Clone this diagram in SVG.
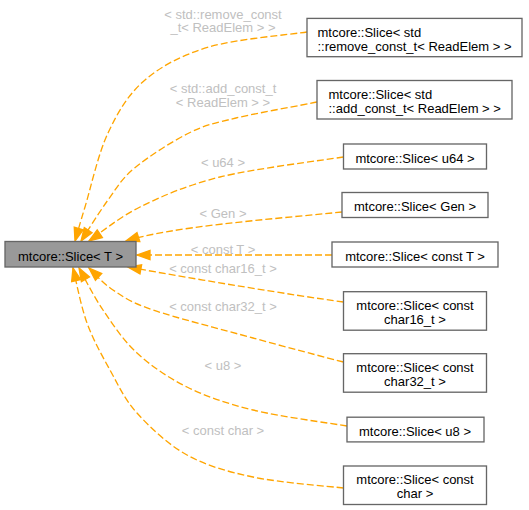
<svg xmlns="http://www.w3.org/2000/svg" width="529" height="510" viewBox="0 0 529 510">
<defs>
<style>
.node rect{fill:#ffffff;stroke:#666666;stroke-width:1.33}
.node.main rect{fill:#999999}
.node text{font-family:"Liberation Sans",Arial,Helvetica,sans-serif;font-size:13px;fill:#000000}
.edge path{fill:none;stroke:#ffa500;stroke-width:1.33;stroke-dasharray:7,3}
.lbl{font-family:"Liberation Sans",Arial,Helvetica,sans-serif;font-size:13px;fill:#c0c0c0;text-anchor:middle}
</style>
<marker id="arr" markerUnits="userSpaceOnUse" markerWidth="14" markerHeight="10" refX="13" refY="4.65" orient="auto" overflow="visible">
<path d="M0,0 L13,4.65 L0,9.3 Z" fill="#ffa500" stroke="#ffa500" stroke-width="1.33" stroke-dasharray="none"/>
</marker>
</defs>
<rect width="529" height="510" fill="#ffffff"/>

<g id="edges" class="edge">
<path marker-end="url(#arr)" d="M307,32 C290.7,34.5 236,39 209,47 C182,55 161.8,65.7 145,80 C128.2,94.3 118,111.8 108,133 C98,154.2 90.5,189 85,207 C79.5,225 76.7,235.3 75,241"/>
<path marker-end="url(#arr)" d="M317,102 C304.8,104.7 257.6,112.8 236,118 C214.4,123.2 205.9,124.7 189,133 C172.1,141.3 148.1,156.8 134.6,168 C121.1,179.2 116.9,187.8 108,200 C99.1,212.2 85.5,234.2 81,241"/>
<path marker-end="url(#arr)" d="M343.5,157 C322.1,160.3 253.75,168.7 220,177 C186.25,185.3 161.8,196.3 140,207 C118.2,217.7 97.5,235.3 89,241"/>
<path marker-end="url(#arr)" d="M342,212 C262,220 170,227 126,241"/>
<path marker-end="url(#arr)" d="M332,255 L137,255"/>
<path marker-end="url(#arr)" d="M343.5,302 C292,295 200,280 128,267"/>
<path marker-end="url(#arr)" d="M343.5,362 C327.6,358 284.6,346.7 253,338 C221.4,329.3 176.3,318 153,310 C129.7,302 123.7,297 113,290 C102.3,283 93,271.7 89,268"/>
<path marker-end="url(#arr)" d="M347,426 C330.5,423.3 279.5,416.5 253,410 C226.5,403.5 206.3,396.5 187,387 C167.7,377.5 151,365.8 137,353 C123,340.2 112.7,324.2 103,310 C93.3,295.8 83,275 79,268"/>
<path marker-end="url(#arr)" d="M343.5,488 C327.6,486.2 278.9,482.5 253,477 C227.1,471.5 206.3,465.7 187,455 C167.7,444.3 149.8,427.2 137,413 C124.2,398.8 118.3,385 110,370 C101.7,355 93.2,340 87,323 C80.8,306 75.3,277.2 73,268"/>
<text class="lbl" x="223" y="18.5">&lt; std::remove_const</text>
<text class="lbl" x="223" y="32">_t&lt; ReadElem &gt; &gt;</text>
<text class="lbl" x="223" y="93">&lt; std::add_const_t</text>
<text class="lbl" x="223" y="106.5">&lt; ReadElem &gt; &gt;</text>
<text class="lbl" x="223" y="166.5">&lt; u64 &gt;</text>
<text class="lbl" x="223" y="217.5">&lt; Gen &gt;</text>
<text class="lbl" x="223" y="254">&lt; const T &gt;</text>
<text class="lbl" x="223" y="272.5">&lt; const char16_t &gt;</text>
<text class="lbl" x="223" y="311">&lt; const char32_t &gt;</text>
<text class="lbl" x="223" y="369.5">&lt; u8 &gt;</text>
<text class="lbl" x="223" y="434.5">&lt; const char &gt;</text>
</g>

<g id="node_main" class="node main">
<rect x="5" y="241.5" width="131" height="25.5"/>
<text x="70.5" y="260.5" text-anchor="middle">mtcore::Slice&lt; T &gt;</text>
</g>
<g id="node_remove_const" class="node">
<rect x="307" y="18.4" width="215" height="38.3"/>
<text x="317.5" y="36.5">mtcore::Slice&lt; std</text>
<text x="317.5" y="50.5">::remove_const_t&lt; ReadElem &gt; &gt;</text>
</g>
<g id="node_add_const" class="node">
<rect x="317" y="80.5" width="195" height="38.5"/>
<text x="328.5" y="98.8">mtcore::Slice&lt; std</text>
<text x="328.5" y="112.8">::add_const_t&lt; ReadElem &gt; &gt;</text>
</g>
<g id="node_u64" class="node">
<rect x="343.5" y="144" width="143" height="25"/>
<text x="415" y="162.5" text-anchor="middle">mtcore::Slice&lt; u64 &gt;</text>
</g>
<g id="node_gen" class="node">
<rect x="342" y="192.5" width="146" height="25"/>
<text x="415" y="211" text-anchor="middle">mtcore::Slice&lt; Gen &gt;</text>
</g>
<g id="node_const_t" class="node">
<rect x="332" y="242" width="166" height="25"/>
<text x="415" y="260.5" text-anchor="middle">mtcore::Slice&lt; const T &gt;</text>
</g>
<g id="node_char16" class="node">
<rect x="343.5" y="291.7" width="143" height="38.5"/>
<text x="415" y="310" text-anchor="middle">mtcore::Slice&lt; const</text>
<text x="415" y="324" text-anchor="middle">char16_t &gt;</text>
</g>
<g id="node_char32" class="node">
<rect x="343.5" y="353.7" width="143" height="38.5"/>
<text x="415" y="372" text-anchor="middle">mtcore::Slice&lt; const</text>
<text x="415" y="386" text-anchor="middle">char32_t &gt;</text>
</g>
<g id="node_u8" class="node">
<rect x="347" y="417.2" width="137" height="24.7"/>
<text x="415" y="435.5" text-anchor="middle">mtcore::Slice&lt; u8 &gt;</text>
</g>
<g id="node_const_char" class="node">
<rect x="343.5" y="466" width="143" height="38.5"/>
<text x="415" y="484.3" text-anchor="middle">mtcore::Slice&lt; const</text>
<text x="415" y="498.3" text-anchor="middle">char &gt;</text>
</g>
</svg>
